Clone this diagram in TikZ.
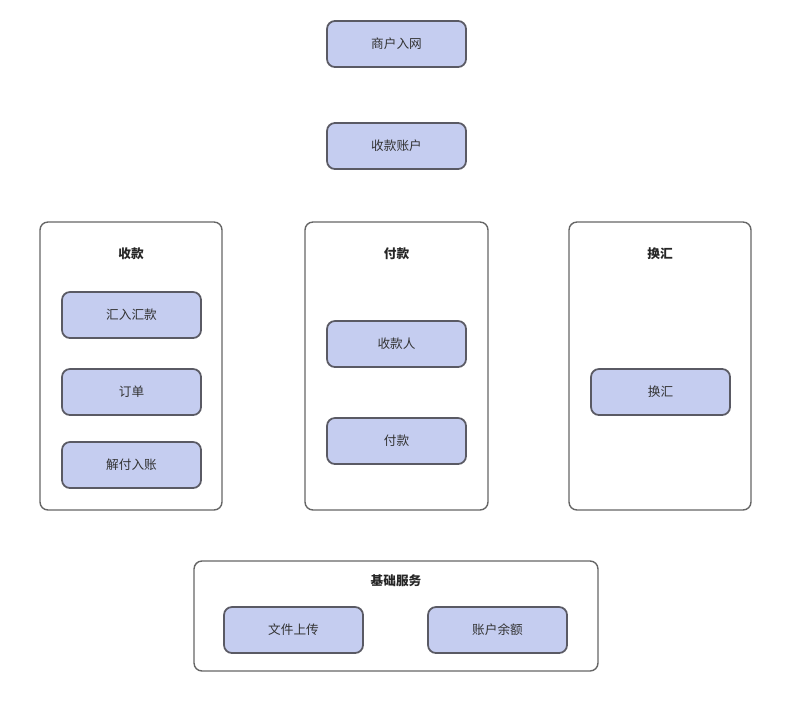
\documentclass[tikz,border=0pt]{standalone}
\usepackage{fontspec}
\setmainfont{Noto Sans CJK SC}
\usetikzlibrary{positioning}
\definecolor{itemfill}{HTML}{C5CDF0}
\definecolor{itemline}{HTML}{5A5A64}
\definecolor{groupline}{HTML}{666666}

\begin{document}
\begin{tikzpicture} [
  x = .02cm,
  y = -.02cm,
  item/.style = {draw = itemline, fill = itemfill, line width = 1pt, rounded corners = 4.5pt,
    minimum width = 2.78cm, minimum height = .92cm, inner sep = 0pt,
    font = \fontsize{7.2}{8}\selectfont, text = black!80},
  group/.style = {draw = groupline, line width = .8pt, rounded corners = 4.5pt, inner sep = 0pt},
  title/.style = {font = \fontsize{7.2}{8}\selectfont\bfseries, text = black!85},
]
\useasboundingbox (0, 0) rectangle (800, 700);

\node [item] (ruwang) at (396.5, 44) {商户入网};
\node [item] (zhanghu) at (396.5, 146) {收款账户};

% 收款
\node [group, minimum width = 3.64cm, minimum height = 5.76cm] (shoukuan) at (131, 366) {};
\node [title] (shoukuanT) at ([yshift = -.64cm] shoukuan.north) {收款};
\node [item] (huiru) at (131.5, 315) {汇入汇款};
\node [item] (dingdan) at (131.5, 392) {订单};
\node [item] (jiefu) at (131.5, 465) {解付入账};

% 付款
\node [group, minimum width = 3.66cm, minimum height = 5.76cm] (fukuan) at (396.5, 366) {};
\node [title] (fukuanT) at ([yshift = -.64cm] fukuan.north) {付款};
\node [item] (shoukuanren) at (396.5, 344) {收款人};
\node [item] (fukuanItem) at (396.5, 441) {付款};

% 换汇
\node [group, minimum width = 3.64cm, minimum height = 5.76cm] (huanhui) at (660, 366) {};
\node [title] (huanhuiT) at ([yshift = -.64cm] huanhui.north) {换汇};
\node [item] (huanhuiItem) at (660.5, 392) {换汇};

% 基础服务
\node [group, minimum width = 8.08cm, minimum height = 2.2cm] (jichu) at (396, 616) {};
\node [title] (jichuT) at ([yshift = -.4cm] jichu.north) {基础服务};
\node [item] (wenjian) at (293.5, 630) {文件上传};
\node [item] (yue) at (497.5, 630) {账户余额};
\end{tikzpicture}
\end{document}
